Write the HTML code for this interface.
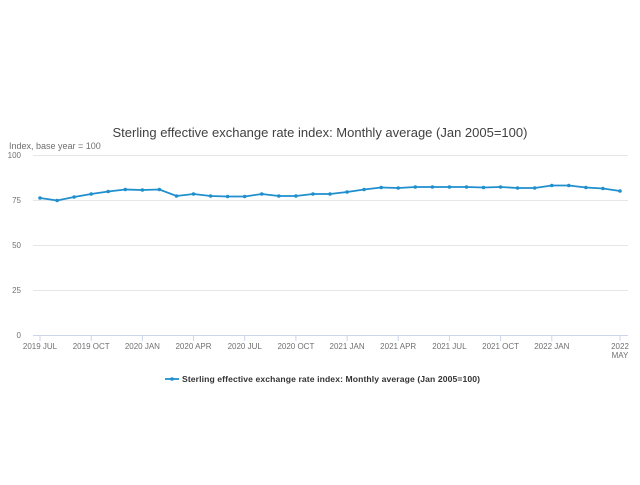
<!DOCTYPE html>
<html><head><meta charset="utf-8"><style>
body{margin:0;background:#fff;}
svg text{font-family:"Liberation Sans",sans-serif;}
</style></head><body>
<svg width="640" height="480" viewBox="0 0 640 480" xmlns="http://www.w3.org/2000/svg">
<rect width="640" height="480" fill="#fff"/>
<text x="320" y="137" font-size="13" fill="#414042" text-anchor="middle">Sterling effective exchange rate index: Monthly average (Jan 2005=100)</text>
<text x="9" y="149" font-size="9" fill="#707071">Index, base year = 100</text>
<g stroke="#e6e6e6" stroke-width="1">
<line x1="33" y1="155.5" x2="628" y2="155.5"/>
<line x1="33" y1="200.5" x2="628" y2="200.5"/>
<line x1="33" y1="245.5" x2="628" y2="245.5"/>
<line x1="33" y1="290.5" x2="628" y2="290.5"/>
</g>
<line x1="33" y1="335.5" x2="628" y2="335.5" stroke="#ccd6eb"/>
<g stroke="#ccd6eb">
<line x1="40" y1="335" x2="40" y2="341"/><line x1="91.2" y1="335" x2="91.2" y2="341"/>
<line x1="142.4" y1="335" x2="142.4" y2="341"/><line x1="193.5" y1="335" x2="193.5" y2="341"/>
<line x1="244.7" y1="335" x2="244.7" y2="341"/><line x1="295.9" y1="335" x2="295.9" y2="341"/>
<line x1="347.1" y1="335" x2="347.1" y2="341"/><line x1="398.2" y1="335" x2="398.2" y2="341"/>
<line x1="449.4" y1="335" x2="449.4" y2="341"/><line x1="500.6" y1="335" x2="500.6" y2="341"/>
<line x1="551.8" y1="335" x2="551.8" y2="341"/><line x1="620" y1="335" x2="620" y2="341"/>
</g>
<g font-size="8" fill="#707071" text-anchor="end">
<text x="21" y="158">100</text><text x="21" y="203">75</text><text x="21" y="248">50</text><text x="21" y="293">25</text><text x="21" y="338">0</text>
</g>
<g font-size="8" fill="#707071" text-anchor="middle">
<text x="40" y="349">2019 JUL</text><text x="91.2" y="349">2019 OCT</text><text x="142.4" y="349">2020 JAN</text>
<text x="193.5" y="349">2020 APR</text><text x="244.7" y="349">2020 JUL</text><text x="295.9" y="349">2020 OCT</text>
<text x="347.1" y="349">2021 JAN</text><text x="398.2" y="349">2021 APR</text><text x="449.4" y="349">2021 JUL</text>
<text x="500.6" y="349">2021 OCT</text><text x="551.8" y="349">2022 JAN</text><text x="620" y="349">2022</text><text x="620" y="358">MAY</text>
</g>
<polyline id="ln" fill="none" stroke="#1f8fce" stroke-width="1.8" points="40,198 57.1,200.5 74.1,197 91.2,194 108.2,191.5 125.3,189.5 142.4,190 159.4,189.5 176.5,196 193.5,194 210.6,196 227.6,196.5 244.7,196.5 261.8,194 278.8,196 295.9,196 312.9,194 330,194 347.1,192 364.1,189.5 381.2,187.5 398.2,188 415.3,187 432.4,187 449.4,187 466.5,187 483.5,187.5 500.6,187 517.6,188 534.7,188 551.8,185.5 568.8,185.5 585.9,187.5 602.9,188.5 620,191"/>
<g fill="#1f8fce">
<circle cx="40" cy="198" r="1.8"/><circle cx="57.1" cy="200.5" r="1.8"/><circle cx="74.1" cy="197" r="1.8"/><circle cx="91.2" cy="194" r="1.8"/><circle cx="108.2" cy="191.5" r="1.8"/><circle cx="125.3" cy="189.5" r="1.8"/><circle cx="142.4" cy="190" r="1.8"/><circle cx="159.4" cy="189.5" r="1.8"/><circle cx="176.5" cy="196" r="1.8"/><circle cx="193.5" cy="194" r="1.8"/><circle cx="210.6" cy="196" r="1.8"/><circle cx="227.6" cy="196.5" r="1.8"/><circle cx="244.7" cy="196.5" r="1.8"/><circle cx="261.8" cy="194" r="1.8"/><circle cx="278.8" cy="196" r="1.8"/><circle cx="295.9" cy="196" r="1.8"/><circle cx="312.9" cy="194" r="1.8"/><circle cx="330" cy="194" r="1.8"/><circle cx="347.1" cy="192" r="1.8"/><circle cx="364.1" cy="189.5" r="1.8"/><circle cx="381.2" cy="187.5" r="1.8"/><circle cx="398.2" cy="188" r="1.8"/><circle cx="415.3" cy="187" r="1.8"/><circle cx="432.4" cy="187" r="1.8"/><circle cx="449.4" cy="187" r="1.8"/><circle cx="466.5" cy="187" r="1.8"/><circle cx="483.5" cy="187.5" r="1.8"/><circle cx="500.6" cy="187" r="1.8"/><circle cx="517.6" cy="188" r="1.8"/><circle cx="534.7" cy="188" r="1.8"/><circle cx="551.8" cy="185.5" r="1.8"/><circle cx="568.8" cy="185.5" r="1.8"/><circle cx="585.9" cy="187.5" r="1.8"/><circle cx="602.9" cy="188.5" r="1.8"/><circle cx="620" cy="191" r="1.8"/>
</g>
<line x1="165" y1="379" x2="179" y2="379" stroke="#1f8fce" stroke-width="1.8"/>
<circle cx="172" cy="379" r="1.8" fill="#1f8fce"/>
<text x="182" y="382" font-size="8.6" font-weight="bold" fill="#333" letter-spacing="0.1">Sterling effective exchange rate index: Monthly average (Jan 2005=100)</text>
</svg>
</body></html>
